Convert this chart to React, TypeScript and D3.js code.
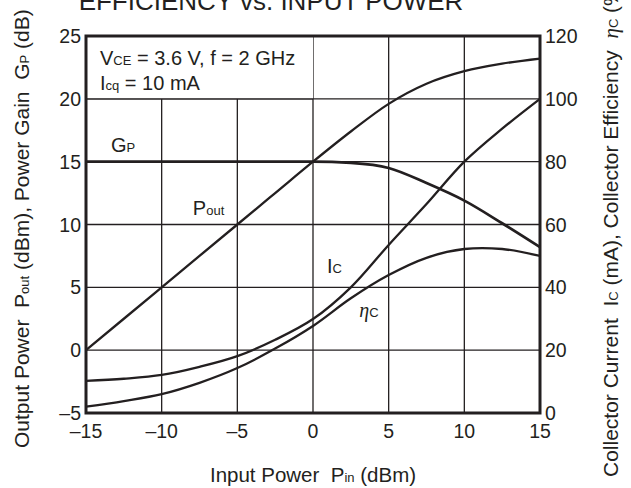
import React from 'react';
import * as d3 from 'd3';

// input power (dBm) sample points
const pin = [-15, -12.5, -10, -7.5, -5, -2.5, 0, 2.5, 5, 7.5, 10, 12.5, 15];
// left axis series (dBm / dB)
const pout = [0, 2.5, 5, 7.5, 10, 12.5, 15, 17.4, 19.6, 21.2, 22.2, 22.8, 23.2];
const gp = [15, 15, 15, 15, 15, 15, 15, 14.9, 14.5, 13.3, 11.9, 10.1, 8.2];
// right axis series (mA / %)
const ic = [10.2, 10.9, 12.1, 14.7, 18.1, 23.3, 29.9, 40, 53.5, 66.5, 80, 90.5, 100];
const eta = [2, 3.8, 6, 9.6, 14.3, 20.5, 27.7, 36.5, 43.9, 49.4, 52.2, 52.2, 50];

const xTicks = [-15, -10, -5, 0, 5, 10, 15];
const leftTicks = [-5, 0, 5, 10, 15, 20, 25];
const rightTicks = [0, 20, 40, 60, 80, 100, 120];

const INK = '#231f20';
const FONT = '"Liberation Sans", Arial, Helvetica, sans-serif';
const SERIF = '"Liberation Serif", "DejaVu Serif", serif';

export default function App() {
  const width = 631;
  const height = 488;
  const margin = { left: 86, right: 91, top: 36, bottom: 75 };
  const x0 = margin.left;
  const x1 = width - margin.right;
  const y0 = height - margin.bottom;
  const y1 = margin.top;

  const x = d3.scaleLinear().domain([-15, 15]).range([x0, x1]);
  const yL = d3.scaleLinear().domain([-5, 25]).range([y0, y1]);
  const yR = d3.scaleLinear().domain([0, 120]).range([y0, y1]);

  const lineL = d3.line<number>()
    .x((_, i) => x(pin[i]))
    .y(d => yL(d))
    .curve(d3.curveMonotoneX);
  const lineR = d3.line<number>()
    .x((_, i) => x(pin[i]))
    .y(d => yR(d))
    .curve(d3.curveCatmullRom.alpha(0.5));

  const sub = 13;
  const fmt = (t: number) => (t < 0 ? '\u2013' + Math.abs(t) : String(t));

  return (
    <svg
      width={width}
      height={height}
      style={{ position: 'absolute', left: 0, top: 0, background: '#fff' }}
      fontFamily={FONT}
      fill={INK}
    >
      {/* title, cut off at the top edge */}
      <text x={271} y={10} fontSize={26} textAnchor="middle">EFFICIENCY vs. INPUT POWER</text>

      {/* grid */}
      {xTicks.slice(1, -1).map(t => (
        <line key={'gx' + t} x1={x(t)} x2={x(t)} y1={y0} y2={y1} stroke={INK} strokeWidth={1.3} />
      ))}
      {leftTicks.slice(1, -1).map(t => (
        <line key={'gy' + t} x1={x0} x2={x1} y1={yL(t)} y2={yL(t)} stroke={INK} strokeWidth={1.3} />
      ))}

      {/* condition box covers the grid */}
      <rect x={x(-15)} y={yL(25)} width={x(0) - x(-15)} height={yL(20) - yL(25)} fill="#fff" />
      <line x1={x0} x2={x(0)} y1={yL(20)} y2={yL(20)} stroke={INK} strokeWidth={1.3} />
      <text x={100} y={65} fontSize={20}>
        V<tspan fontSize={sub}>CE</tspan> = 3.6 V, f = 2 GHz
      </text>
      <text x={100} y={90} fontSize={20}>
        I<tspan fontSize={sub}>cq</tspan> = 10 mA
      </text>

      {/* curves */}
      <path d={lineL(gp) ?? ''} fill="none" stroke={INK} strokeWidth={2.7} />
      <path d={lineL(pout) ?? ''} fill="none" stroke={INK} strokeWidth={2.3} />
      <path d={lineR(ic) ?? ''} fill="none" stroke={INK} strokeWidth={2.3} />
      <path d={lineR(eta) ?? ''} fill="none" stroke={INK} strokeWidth={2.3} />

      {/* frame */}
      <rect x={x0} y={y1} width={x1 - x0} height={y0 - y1} fill="none" stroke={INK} strokeWidth={3} />

      {/* curve labels */}
      <text x={x(-12.55)} y={yL(15.8)} fontSize={20} textAnchor="middle">
        G<tspan fontSize={sub}>P</tspan>
      </text>
      <text x={x(-6.9)} y={yL(10.75)} fontSize={20} textAnchor="middle">
        P<tspan fontSize={sub}>out</tspan>
      </text>
      <text x={x(1.42)} y={yL(6.14)} fontSize={20} textAnchor="middle">
        I<tspan fontSize={sub}>C</tspan>
      </text>
      <text x={x(3.7)} y={yL(2.64)} fontSize={20} textAnchor="middle">
        <tspan fontFamily={SERIF} fontStyle="italic">η</tspan>
        <tspan fontSize={sub}>C</tspan>
      </text>

      {/* tick labels */}
      {xTicks.map(t => (
        <text key={'xt' + t} x={x(t)} y={438} fontSize={19.5} textAnchor="middle">{fmt(t)}</text>
      ))}
      {leftTicks.map(t => (
        <text key={'lt' + t} x={x0 - 5} y={yL(t)} dy="0.36em" fontSize={19.5} textAnchor="end">{fmt(t)}</text>
      ))}
      {rightTicks.map(t => (
        <text key={'rt' + t} x={x1 + 5} y={yR(t)} dy="0.36em" fontSize={19.5} textAnchor="start">{t}</text>
      ))}

      {/* axis titles */}
      <text x={313} y={482} fontSize={20.5} textAnchor="middle" style={{ whiteSpace: 'pre' }}>
        Input Power  P<tspan fontSize={sub}>in</tspan> (dBm)
      </text>
      <text transform="translate(29,448) rotate(-90)" fontSize={21} textAnchor="start" style={{ whiteSpace: 'pre' }}>
        Output Power  P<tspan fontSize={sub}>out</tspan> (dBm), Power Gain  G<tspan fontSize={sub}>P</tspan> (dB)
      </text>
      <text transform="translate(618,477) rotate(-90)" fontSize={21} textAnchor="start" style={{ whiteSpace: 'pre' }}>
        Collector Current  I<tspan fontSize={sub}>C</tspan> (mA), Collector Efficiency  <tspan fontFamily={SERIF} fontStyle="italic">η</tspan><tspan fontSize={sub}>C</tspan> (%)
      </text>
    </svg>
  );
}
